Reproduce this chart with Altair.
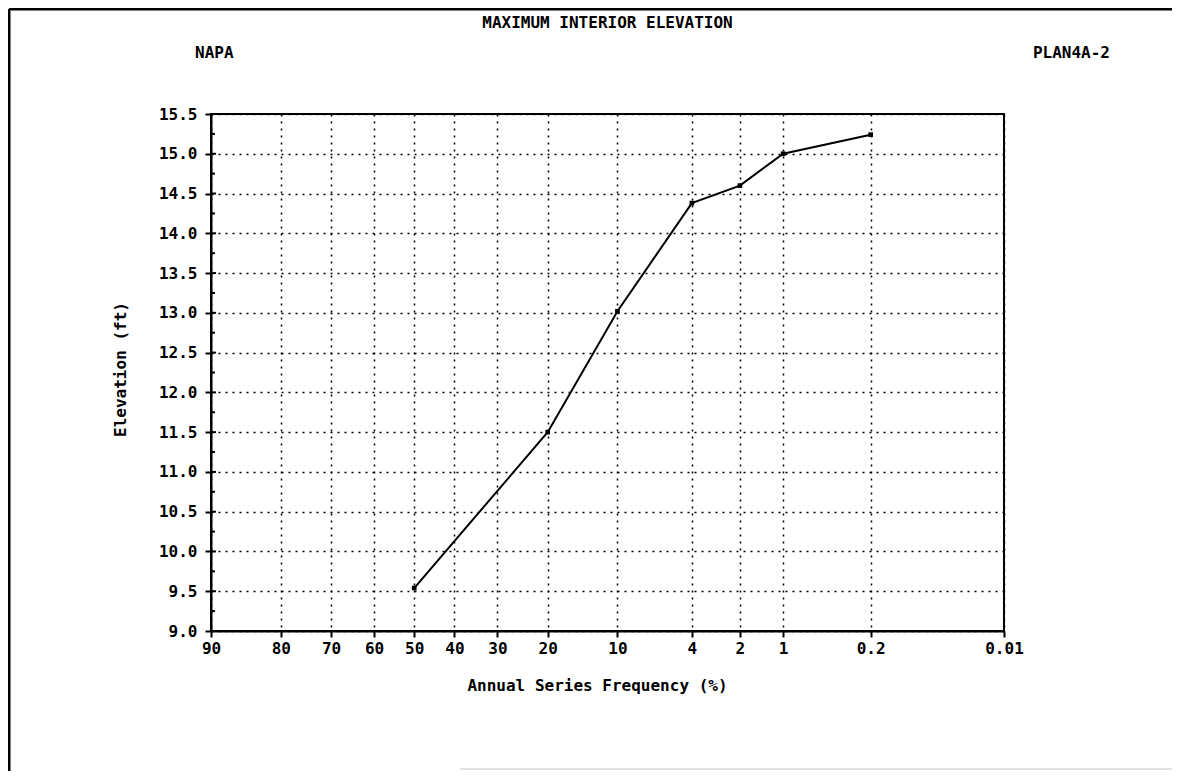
import altair as alt
import pandas as pd
from statistics import NormalDist

# ---------------- data ----------------
chart_title = "MAXIMUM INTERIOR ELEVATION"
left_label = "NAPA"
right_label = "PLAN4A-2"
x_title = "Annual Series Frequency (%)"
y_title = "Elevation (ft)"

freq = [50, 20, 10, 4, 2, 1, 0.2]                 # annual exceedance frequency (%)
elev = [9.54, 11.5, 13.02, 14.38, 14.6, 15.0, 15.24]  # elevation (ft)

x_tick_vals = [90, 80, 70, 60, 50, 40, 30, 20, 10, 4, 2, 1, 0.2, 0.01]
x_tick_labels = ["90", "80", "70", "60", "50", "40", "30", "20", "10", "4", "2", "1", "0.2", "0.01"]
y_ticks = [9.0, 9.5, 10.0, 10.5, 11.0, 11.5, 12.0, 12.5, 13.0, 13.5, 14.0, 14.5, 15.0, 15.5]
y_minor = [9.25, 9.75, 10.25, 10.75, 11.25, 11.75, 12.25, 12.75, 13.25, 13.75, 14.25, 14.75, 15.25]

# ---------------- probability scale helper ----------------
nd = NormalDist()


def zpos(p):
    v = nd.inv_cdf(1 - p / 100.0)
    return 0.0 if abs(v) < 1e-12 else v


xz = [zpos(p) for p in x_tick_vals]
label_map = {str(round(v * 1000)): lab for v, lab in zip(xz, x_tick_labels)}
label_expr = "{" + ",".join("'%s':'%s'" % (k, v) for k, v in label_map.items()) + "}[round(datum.value*1000)]"

df = pd.DataFrame({"freq": freq, "elev": elev, "z": [zpos(p) for p in freq]})

W, H = 793, 517
FONT = "DejaVu Sans Mono"
FS = 16

x_scale = alt.Scale(domain=[zpos(90), zpos(0.01)], nice=False, zero=False)
y_scale = alt.Scale(domain=[9.0, 15.5], nice=False, zero=False)

x_axis = alt.Axis(
    values=xz, labelExpr=label_expr,
    grid=True, gridColor="black", gridDash=[2, 5], gridWidth=1.5, gridOpacity=1,
    tickSize=6, tickColor="black", tickWidth=2,
    domainColor="black", domainWidth=2,
    labelFont=FONT, labelFontSize=FS, labelFontWeight="bold", labelColor="black",
    labelPadding=3, labelFlush=False, labelOverlap=False,
    title=x_title, titleFont=FONT, titleFontSize=FS, titleFontWeight="bold", titleColor="black",
    titleX=386, titleY=54, titleBaseline="middle", titleAlign="center",
)
y_axis = alt.Axis(
    values=y_ticks, format=".1f",
    grid=True, gridColor="black", gridDash=[2, 5], gridWidth=1.5, gridOpacity=1,
    tickSize=6, tickColor="black", tickWidth=2,
    domainColor="black", domainWidth=2,
    labelFont=FONT, labelFontSize=FS, labelFontWeight="bold", labelColor="black",
    labelPadding=8, labelFlush=False, labelOverlap=False,
    title=y_title, titleFont=FONT, titleFontSize=FS, titleFontWeight="bold", titleColor="black",
    titleX=-91, titleY=255, titleBaseline="middle", titleAlign="center", titleAngle=270,
)

base = alt.Chart(df)
line = base.mark_line(color="black", strokeWidth=2).encode(
    x=alt.X("z:Q", scale=x_scale, axis=x_axis),
    y=alt.Y("elev:Q", scale=y_scale, axis=y_axis),
)
pts = base.mark_square(size=22, color="black", opacity=1).encode(
    x=alt.X("z:Q", scale=x_scale, axis=x_axis),
    y=alt.Y("elev:Q", scale=y_scale, axis=y_axis),
)

in_major = alt.Chart(pd.DataFrame({"v": y_ticks})).mark_rule(color="black", strokeWidth=2).encode(
    y=alt.Y("v:Q", scale=y_scale, axis=y_axis), x=alt.value(0), x2=alt.value(5)
)
in_minor = alt.Chart(pd.DataFrame({"v": y_minor})).mark_rule(color="black", strokeWidth=2).encode(
    y=alt.Y("v:Q", scale=y_scale, axis=y_axis), x=alt.value(0), x2=alt.value(4)
)

one = pd.DataFrame({"t": [""]})
frame_top = alt.Chart(one).mark_rule(color="black", strokeWidth=3).encode(
    x=alt.value(-202), x2=alt.value(969), y=alt.value(-105)
)
frame_left = alt.Chart(one).mark_rule(color="black", strokeWidth=3).encode(
    x=alt.value(-202), y=alt.value(-105), y2=alt.value(665)
)
frame_bottom = alt.Chart(one).mark_rule(color="#c4c4c4", strokeWidth=1).encode(
    x=alt.value(249), x2=alt.value(969), y=alt.value(655)
)


def txt(s, x, y, align):
    return alt.Chart(pd.DataFrame({"t": [s]})).mark_text(
        font=FONT, fontSize=FS, fontWeight="bold", color="black", align=align, baseline="middle"
    ).encode(text="t:N", x=alt.value(x), y=alt.value(y))


t_title = txt(chart_title, 396.5, -91, "center")
t_left = txt(left_label, -16, -61, "left")
t_right = txt(right_label, 899, -61, "right")

chart = alt.layer(
    line, pts, in_major, in_minor, frame_top, frame_left, frame_bottom, t_title, t_left, t_right
).properties(
    width=W, height=H,
    autosize=alt.AutoSizeParams(type="none"),
    padding={"left": 203, "top": 106, "right": 168, "bottom": 140},
    background="white",
).configure_view(stroke="black", strokeWidth=2)

chart.save("out.html", embed_options={"renderer": "svg", "actions": False})
